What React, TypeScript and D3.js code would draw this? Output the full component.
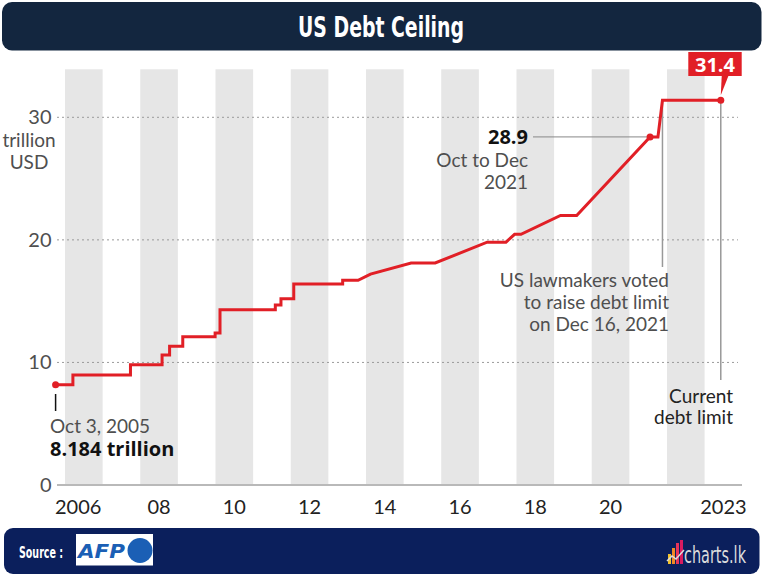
import React from "react";
import * as d3 from "d3";

const dates = [2005.75, 2006.21, 2006.21, 2007.74, 2007.74, 2008.58, 2008.58, 2008.78, 2008.78, 2009.13, 2009.13, 2009.99, 2009.99, 2010.12, 2010.12, 2011.59, 2011.59, 2011.74, 2011.74, 2012.08, 2012.08, 2013.38, 2013.38, 2013.79, 2014.12, 2015.2, 2015.84, 2017.22, 2017.72, 2017.95, 2018.12, 2019.17, 2019.6, 2021.55, 2021.76, 2021.88, 2023.43];
const values = [8.184, 8.184, 8.965, 8.965, 9.815, 9.815, 10.615, 10.615, 11.315, 11.315, 12.104, 12.104, 12.394, 12.394, 14.294, 14.294, 14.694, 14.694, 15.194, 15.194, 16.394, 16.394, 16.699, 16.699, 17.212, 18.113, 18.113, 19.809, 19.809, 20.456, 20.456, 21.988, 21.988, 28.4, 28.4, 31.381, 31.381];

const bandYears = [2006, 2008, 2010, 2012, 2014, 2016, 2018, 2020, 2022];
const xTickYears = [2006, 2008, 2010, 2012, 2014, 2016, 2018, 2020, 2023];
const xTickLabels = ["2006", "08", "10", "12", "14", "16", "18", "20", "2023"];
const yTicks = [0, 10, 20, 30];

const FONT = "'Source Sans Pro', Lato, 'Noto Sans', sans-serif";
const BOLD = "'Open Sans', 'Noto Sans', sans-serif";
const COND = "'Liberation Sans Narrow', 'DejaVu Sans Condensed', sans-serif";
const RED = "#e11f26";
const GREY = "#4f4f4f";

export default function App() {
  const x = d3.scaleLinear().domain([2006, 2023]).range([65, 704.6]);
  const y = d3.scaleLinear().domain([0, 30]).range([485, 117.3]);
  const pts: [number, number][] = dates.map((d, i) => [d, values[i]]);
  const line = d3.line<[number, number]>().x((d) => x(d[0])).y((d) => y(d[1]));
  const yearW = x(2007) - x(2006);

  const startI = 0;
  const midI = 33;
  const cornerI = 35;
  const endI = values.length - 1;
  const sx = x(dates[startI]), sy = y(values[startI]);
  const mx = x(dates[midI]), my = y(values[midI]);
  const cx = x(dates[cornerI]), cy = y(values[cornerI]);
  const ex = x(dates[endI]), ey = y(values[endI]);

  return (
    <svg width={763} height={577} style={{ position: "absolute", left: 0, top: 0, background: "#fff" }}>
      {/* title bar */}
      <rect x={2} y={2} width={759.5} height={48.5} rx={10} fill="#13263f" />
      <text x={381} y={37} textAnchor="middle" fill="#fff" fontFamily={COND} fontWeight="bold" fontSize={29} textLength={166} lengthAdjust="spacingAndGlyphs">US Debt Ceiling</text>

      {/* bands */}
      {bandYears.map((yr) => (
        <rect key={yr} x={x(yr)} y={69.3} width={yearW} height={y(0) - 69.3} fill="#e6e6e6" />
      ))}

      {/* gridlines */}
      {yTicks.filter((t) => t > 0).map((t) => (
        <line key={t} x1={57} x2={738} y1={y(t)} y2={y(t)} stroke="#9a9a9a" strokeWidth={1} strokeDasharray="2,3" />
      ))}
      <line x1={57} x2={742} y1={y(0)} y2={y(0)} stroke="#b9b9b9" strokeWidth={2} />

      {/* y labels */}
      {yTicks.map((t) => (
        <text key={t} x={51.5} y={y(t)} dy="0.35em" textAnchor="end" fill={GREY} fontFamily={FONT} fontSize={20}>{t}</text>
      ))}
      <text x={29} y={140} dy="0.35em" textAnchor="middle" fill={GREY} fontFamily={FONT} fontSize={19}>trillion</text>
      <text x={29} y={162} dy="0.35em" textAnchor="middle" fill={GREY} fontFamily={FONT} fontSize={19}>USD</text>

      {/* x labels */}
      {xTickYears.map((yr, i) => (
        <text key={yr} x={i === 0 ? 55 : x(yr + 0.5)} y={507} dy="0.35em" textAnchor={i === 0 ? "start" : "middle"} fill="#222" fontFamily={FONT} fontSize={20}>{xTickLabels[i]}</text>
      ))}

      {/* annotation lines */}
      <line x1={sx} x2={sx} y1={394} y2={411} stroke="#111" strokeWidth={1.5} />
      <line x1={533} x2={mx - 3} y1={my} y2={my} stroke="#888" strokeWidth={1} />
      <line x1={cx} x2={cx} y1={cy} y2={267} stroke="#999" strokeWidth={1.5} />
      <line x1={ex} x2={ex} y1={ey} y2={380} stroke="#999" strokeWidth={1.5} />

      {/* series */}
      <path d={line(pts) || ""} fill="none" stroke={RED} strokeWidth={3} />
      <circle cx={sx} cy={sy} r={3.5} fill={RED} />
      <circle cx={mx} cy={my} r={3.5} fill={RED} />
      <circle cx={ex} cy={ey} r={3.5} fill={RED} />

      {/* 31.4 callout */}
      <rect x={688.3} y={52} width={53.4} height={24} fill={RED} />
      <path d={`M ${ex + 1} 75 L ${ex + 8} 75 L ${ex} ${ey - 5} Z`} fill={RED} />
      <text x={715} y={64.5} dy="0.35em" textAnchor="middle" fill="#fff" fontFamily={BOLD} fontWeight="bold" fontSize={20}>31.4</text>

      {/* texts */}
      <text x={50} y={426} dy="0.35em" fill={GREY} fontFamily={FONT} fontSize={19}>Oct 3, 2005</text>
      <text x={50} y={449} dy="0.35em" fill="#111" fontFamily={BOLD} fontWeight="bold" fontSize={20}>8.184 trillion</text>

      <text x={528} y={137} dy="0.35em" textAnchor="end" fill="#111" fontFamily={BOLD} fontWeight="bold" fontSize={20}>28.9</text>
      <text x={528} y={160} dy="0.35em" textAnchor="end" fill={GREY} fontFamily={FONT} fontSize={19}>Oct to Dec</text>
      <text x={528} y={182} dy="0.35em" textAnchor="end" fill={GREY} fontFamily={FONT} fontSize={19}>2021</text>

      <text x={669} y={280} dy="0.35em" textAnchor="end" fill={GREY} fontFamily={FONT} fontSize={19}>US lawmakers voted</text>
      <text x={669} y={302} dy="0.35em" textAnchor="end" fill={GREY} fontFamily={FONT} fontSize={19}>to raise debt limit</text>
      <text x={669} y={324} dy="0.35em" textAnchor="end" fill={GREY} fontFamily={FONT} fontSize={19}>on Dec 16, 2021</text>

      <text x={733} y={396} dy="0.35em" textAnchor="end" fill="#222" fontFamily={FONT} fontSize={19}>Current</text>
      <text x={733} y={417} dy="0.35em" textAnchor="end" fill="#222" fontFamily={FONT} fontSize={19}>debt limit</text>

      {/* footer */}
      <rect x={4} y={528} width={755.5} height={46} rx={9} fill="#0b1f5c" />
      <text x={19} y={552} dy="0.35em" fill="#fff" fontFamily={COND} fontWeight="bold" fontSize={16} textLength={44} lengthAdjust="spacingAndGlyphs">Source :</text>
      <rect x={76} y={534} width={77} height={31.5} fill="#fff" />
      <text x={78} y={551} dy="0.36em" fill="#1b5fb5" fontFamily="'DejaVu Sans', sans-serif" fontWeight="bold" fontStyle="italic" fontSize={19} textLength={47} lengthAdjust="spacingAndGlyphs">AFP</text>
      <circle cx={140} cy={550.5} r={12.5} fill="#1b5fb5" />
      {/* charts.lk logo */}
      <rect x={668} y={554} width={3} height={10} fill="#f2c12e" />
      <rect x={672} y={548} width={3} height={16} fill="#f08a24" />
      <rect x={676} y={543} width={3} height={21} fill="#e8335a" />
      <rect x={680} y={540} width={3} height={24} fill="#d81b60" />
      <path d="M 667 561 L 672 556 L 676 559 L 684 550" fill="none" stroke="#ddd" strokeWidth={1.5} />
      <text x={684} y={555} dy="0.35em" fill="#dcdcdc" fontFamily={COND} fontSize={23} textLength={62} lengthAdjust="spacingAndGlyphs">charts.lk</text>
    </svg>
  );
}
